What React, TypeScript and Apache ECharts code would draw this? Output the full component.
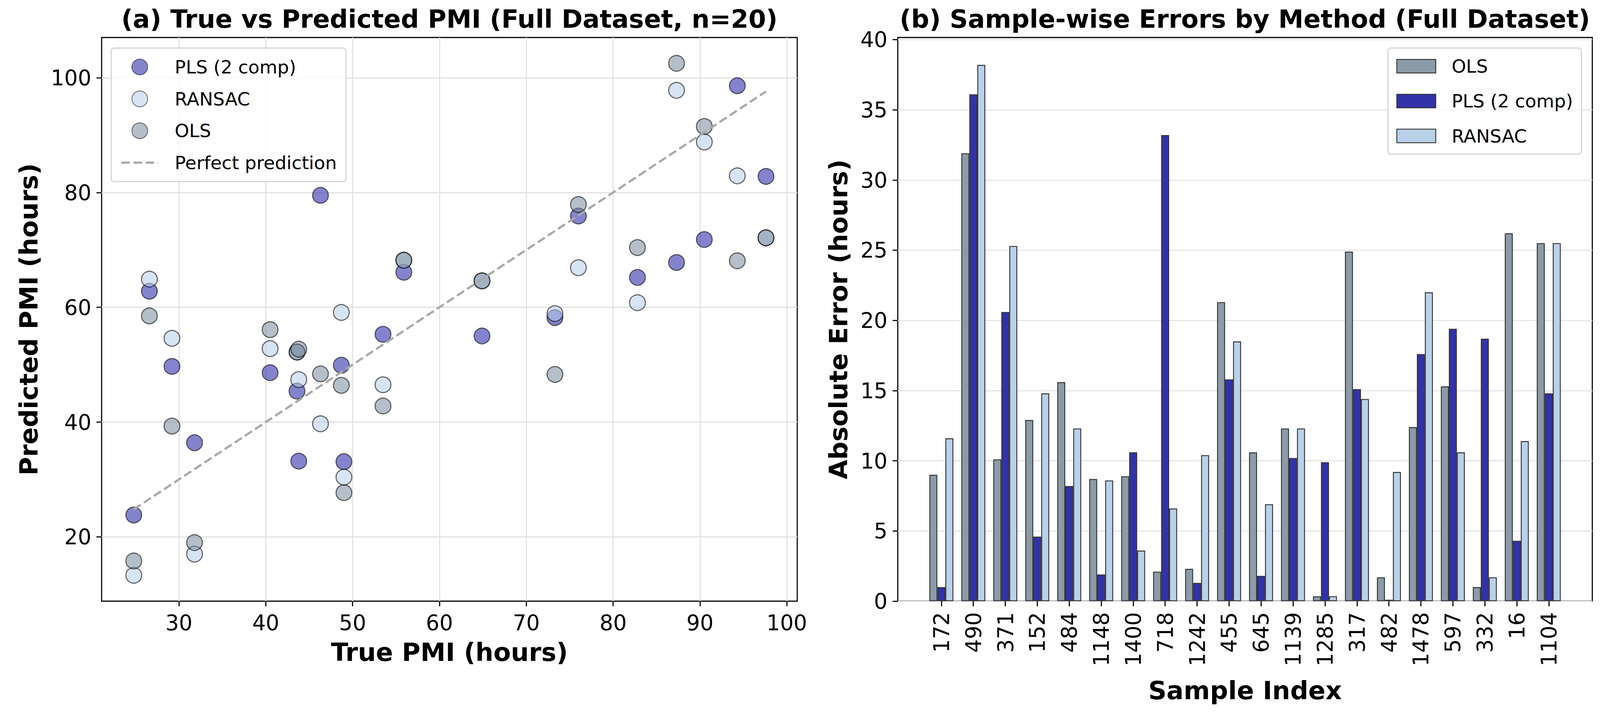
import React, { useEffect, useRef } from 'react';
import * as echarts from 'echarts';

// (a) true vs predicted PMI, one entry per sample (sorted by true PMI)
const trueValues = [24.8, 26.6, 29.2, 31.8, 40.5, 43.6, 43.8, 46.3, 48.7, 49.0, 53.5, 55.9, 64.9, 73.3, 76.0, 82.8, 87.3, 90.5, 94.3, 97.6];
const plsPred = [23.8, 62.8, 49.7, 36.4, 48.6, 45.4, 33.2, 79.5, 49.9, 33.1, 55.3, 66.1, 55.0, 58.2, 75.9, 65.2, 67.8, 71.8, 98.6, 82.8];
const ransacPred = [13.3, 64.9, 54.6, 17.0, 52.8, 52.2, 47.4, 39.7, 59.1, 30.4, 46.5, 68.2, 64.6, 58.9, 66.9, 60.8, 97.8, 88.8, 82.9, 72.1];
const olsPred = [15.8, 58.5, 39.3, 19.0, 56.1, 52.2, 52.7, 48.4, 46.4, 27.7, 42.8, 68.2, 64.6, 48.3, 77.9, 70.4, 102.5, 91.5, 68.1, 72.1];

// (b) absolute error per sample
const sampleIds = ['172', '490', '371', '152', '484', '1148', '1400', '718', '1242', '455', '645', '1139', '1285', '317', '482', '1478', '597', '332', '16', '1104'];
const olsErrors = [9.0, 31.9, 10.1, 12.9, 15.6, 8.7, 8.9, 2.1, 2.3, 21.3, 10.6, 12.3, 0.35, 24.9, 1.7, 12.4, 15.3, 1.0, 26.2, 25.5];
const plsErrors = [1.0, 36.1, 20.6, 4.6, 8.2, 1.9, 10.6, 33.2, 1.3, 15.8, 1.8, 10.2, 9.9, 15.1, 0.1, 17.6, 19.4, 18.7, 4.3, 14.8];
const ransacErrors = [11.6, 38.2, 25.3, 14.8, 12.3, 8.6, 3.6, 6.6, 10.4, 18.5, 6.9, 12.3, 0.35, 14.4, 9.2, 22.0, 10.6, 1.7, 11.4, 25.5];

// tick labels
const xTicks = [30, 40, 50, 60, 70, 80, 90, 100];
const yTicks = [20, 40, 60, 80, 100];
const errTicks = [0, 5, 10, 15, 20, 25, 30, 35, 40];

const FONT = 'DejaVu Sans';
// layout was measured on a 4361 x 1833 picture
const BASE_W = 4361;
const BASE_H = 1833;

const App: React.FC = () => {
  const chartRef = useRef<HTMLDivElement>(null);

  useEffect(() => {
    if (!chartRef.current) return;
    const chart = echarts.init(chartRef.current, undefined, { renderer: 'svg' });

    // positions follow the page in both directions, sizes use the smaller factor
    const kx = chart.getWidth() / BASE_W;
    const ky = chart.getHeight() / BASE_H;
    const X = (v: number) => v * kx;
    const Y = (v: number) => v * ky;
    const S = (v: number) => v * Math.min(kx, ky);

    const pairs = (ys: number[]) => trueValues.map((x, i) => [x, ys[i]]);
    const lo = Math.min(...trueValues);
    const hi = Math.max(...trueValues);

    const tickLine = { color: '#000', width: S(3) };
    const labelStyle = { fontSize: S(58), color: '#000', fontFamily: FONT };
    const nameStyle = { fontSize: S(69), fontWeight: 'bold', color: '#000', fontFamily: FONT };
    const onlyTicks = (ticks: number[]) => (v: number) =>
      ticks.some((t) => Math.abs(t - v) < 1e-6) ? String(Math.round(v)) : '';

    const scatterStyle = (fill: string) => ({
      color: fill,
      borderColor: 'rgba(0,0,0,0.72)',
      borderWidth: S(3),
    });
    const barBorder = { borderColor: '#333', borderWidth: S(2.5) };
    const dashed = { color: '#aaaaaa', width: S(6), type: [S(23), S(10)] };

    const title = (text: string, cx: number) => ({
      type: 'text',
      x: X(cx),
      y: Y(48),
      style: {
        text,
        fontSize: S(69),
        fontWeight: 'bold',
        fontFamily: FONT,
        fill: '#000',
        align: 'center',
        verticalAlign: 'middle',
      },
    });

    const legendBox = {
      orient: 'vertical',
      selectedMode: false,
      backgroundColor: 'rgba(255,255,255,0.8)',
      borderColor: '#d4d4d4',
      borderWidth: S(3),
      borderRadius: S(8),
    };

    const option = {
      animation: false,
      backgroundColor: '#fff',
      textStyle: { fontFamily: FONT },
      graphic: [
        title('(a) True vs Predicted PMI (Full Dataset, n=20)', 1225),
        title('(b) Sample-wise Errors by Method (Full Dataset)', 3393),
      ],
      legend: [
        {
          ...legendBox,
          left: X(303),
          top: Y(123),
          itemWidth: S(100),
          itemHeight: S(43),
          itemGap: Y(75) - S(43),
          padding: [Y(25), X(25), Y(25), X(25)],
          textStyle: { fontSize: S(50), color: '#000', fontFamily: FONT, padding: [0, 0, 0, X(40)] },
          data: [
            'PLS (2 comp)',
            'RANSAC',
            'OLS',
            { name: 'Perfect prediction', itemStyle: { opacity: 0 }, lineStyle: { ...dashed, opacity: 1 } },
          ],
        },
        {
          ...legendBox,
          left: X(3783),
          top: Y(123),
          itemWidth: S(106),
          itemHeight: S(37),
          itemGap: Y(77) - S(37),
          padding: [Y(23), X(23), Y(23), X(23)],
          textStyle: { fontSize: S(50), color: '#000', fontFamily: FONT, padding: [0, 0, 0, X(38)] },
          data: [
            { name: 'OLS', icon: 'rect', itemStyle: { color: '#8b9ba8', ...barBorder, opacity: 1 } },
            { name: 'PLS (2 comp)', icon: 'rect', itemStyle: { color: '#3232a8', ...barBorder, opacity: 1 } },
            { name: 'RANSAC', icon: 'rect', itemStyle: { color: '#b9d1e9', ...barBorder, opacity: 1 } },
          ],
        },
      ],
      grid: [
        { left: X(277), top: Y(96), width: X(1896), height: Y(1443), show: true, borderColor: '#000', borderWidth: S(3), backgroundColor: 'transparent' },
        { left: X(2447), top: Y(96), width: X(1893), height: Y(1443), show: true, borderColor: '#000', borderWidth: S(3), backgroundColor: 'transparent' },
        // bars: 20 categories inside the frame, with matplotlib's side margins
        { left: X(2447 + 75.2), top: Y(96), width: X(1742.7), height: Y(1443) },
      ],
      xAxis: [
        {
          gridIndex: 0,
          type: 'value',
          min: 21.1,
          max: 101.2,
          splitNumber: 8,
          name: 'True PMI (hours)',
          nameLocation: 'middle',
          nameGap: Y(98),
          nameTextStyle: nameStyle,
          axisLine: { show: false },
          axisTick: { show: true, inside: false, length: S(14), lineStyle: tickLine, customValues: xTicks },
          axisLabel: { ...labelStyle, margin: Y(28), customValues: xTicks, formatter: onlyTicks(xTicks) },
          splitLine: { show: true, lineStyle: { color: '#e2e2e2', width: S(3) } },
        },
        { gridIndex: 1, type: 'value', min: 0, max: 1, show: false },
        {
          gridIndex: 2,
          type: 'category',
          data: sampleIds,
          name: 'Sample Index',
          nameLocation: 'middle',
          nameGap: Y(196),
          nameTextStyle: nameStyle,
          axisLine: { show: false },
          axisTick: { show: true, alignWithLabel: true, length: S(14), lineStyle: tickLine },
          axisLabel: { ...labelStyle, margin: Y(28), interval: 0, rotate: 90 },
          splitLine: { show: false },
        },
      ],
      yAxis: [
        {
          gridIndex: 0,
          type: 'value',
          min: 8.8,
          max: 107,
          splitNumber: 5,
          name: 'Predicted PMI (hours)',
          nameLocation: 'middle',
          nameGap: X(164),
          nameRotate: 90,
          nameTextStyle: nameStyle,
          axisLine: { show: false },
          axisTick: { show: true, inside: false, length: S(14), lineStyle: tickLine, customValues: yTicks },
          axisLabel: { ...labelStyle, margin: X(28), customValues: yTicks, formatter: onlyTicks(yTicks) },
          splitLine: { show: true, lineStyle: { color: '#e2e2e2', width: S(3) } },
        },
        {
          gridIndex: 1,
          type: 'value',
          min: 0,
          max: 40.15,
          interval: 5,
          name: 'Absolute Error (hours)',
          nameLocation: 'middle',
          nameGap: X(127),
          nameRotate: 90,
          nameTextStyle: nameStyle,
          axisLine: { show: false },
          axisTick: { show: true, inside: false, length: S(14), lineStyle: tickLine, customValues: errTicks },
          axisLabel: { ...labelStyle, margin: X(28), customValues: errTicks, formatter: onlyTicks(errTicks) },
          splitLine: { show: true, lineStyle: { color: '#e6e6e6', width: S(3) } },
        },
        { gridIndex: 2, type: 'value', min: 0, max: 40.15, show: false },
      ],
      series: [
        {
          name: 'PLS (2 comp)',
          type: 'scatter',
          xAxisIndex: 0,
          yAxisIndex: 0,
          symbol: 'circle',
          symbolSize: S(43),
          itemStyle: scatterStyle('rgba(30,30,165,0.68)'),
          data: pairs(plsPred),
        },
        {
          name: 'RANSAC',
          type: 'scatter',
          xAxisIndex: 0,
          yAxisIndex: 0,
          symbol: 'circle',
          symbolSize: S(43),
          itemStyle: scatterStyle('rgba(181,206,233,0.68)'),
          data: pairs(ransacPred),
        },
        {
          name: 'OLS',
          type: 'scatter',
          xAxisIndex: 0,
          yAxisIndex: 0,
          symbol: 'circle',
          symbolSize: S(43),
          itemStyle: scatterStyle('rgba(120,138,156,0.68)'),
          data: pairs(olsPred),
        },
        {
          name: 'Perfect prediction',
          type: 'line',
          xAxisIndex: 0,
          yAxisIndex: 0,
          symbol: 'none',
          lineStyle: dashed,
          itemStyle: { color: '#aaaaaa' },
          data: [[lo, lo], [hi, hi]],
        },
        {
          name: 'OLS',
          type: 'bar',
          xAxisIndex: 2,
          yAxisIndex: 2,
          barWidth: '25%',
          barGap: '0%',
          itemStyle: { color: '#8b9ba8', ...barBorder },
          data: olsErrors,
        },
        {
          name: 'PLS (2 comp)',
          type: 'bar',
          xAxisIndex: 2,
          yAxisIndex: 2,
          barWidth: '25%',
          barGap: '0%',
          itemStyle: { color: '#3232a8', ...barBorder },
          data: plsErrors,
        },
        {
          name: 'RANSAC',
          type: 'bar',
          xAxisIndex: 2,
          yAxisIndex: 2,
          barWidth: '25%',
          barGap: '0%',
          itemStyle: { color: '#b9d1e9', ...barBorder },
          data: ransacErrors,
        },
      ],
    };

    chart.setOption(option as any);

    return () => {
      chart.dispose();
    };
  }, []);

  return (
    <div
      ref={chartRef}
      style={{ position: 'fixed', left: 0, top: 0, width: '100vw', height: '100vh', background: '#fff' }}
    />
  );
};

export default App;
